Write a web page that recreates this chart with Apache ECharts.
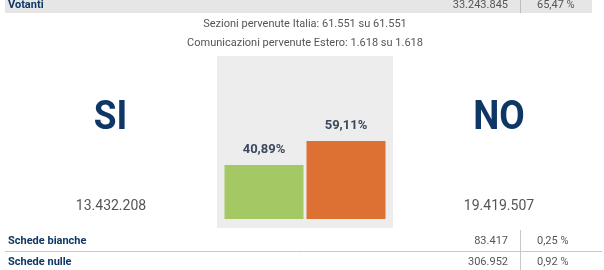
<!DOCTYPE html>
<html><head><meta charset="utf-8">
<script src="https://cdn.jsdelivr.net/npm/echarts@6/dist/echarts.min.js"></script>
<style>html,body{margin:0;padding:0;background:#fff}#c{width:604px;height:270px}</style>
</head><body><div id="c"></div>
<script>
const categories = ['SI', 'NO'];
const percentages = [40.89, 59.11];
const voteCounts = ['13.432.208', '19.419.507'];
const barColors = ['#a4c863', '#dc7133'];
const infoLines = ['Sezioni pervenute Italia: 61.551 su 61.551', 'Comunicazioni pervenute Estero: 1.618 su 1.618'];
const rowLabels = ['Votanti', 'Schede bianche', 'Schede nulle'];
const rowCounts = ['33.243.845', '83.417', '306.952'];
const rowPercents = ['65,47 %', '0,25 %', '0,92 %'];

const FONT = 'Roboto, "Noto Sans", sans-serif';
const navy = '#0f3766';
const chart = echarts.init(document.getElementById('c'), null, {renderer: 'canvas'});

function fmtPct(v) { return v.toFixed(2).replace('.', ',') + '%'; }

const rowY = [5.5, 241, 262];
const graphics = [
  {type: 'rect', shape: {x: 5, y: -2, width: 587, height: 15}, style: {fill: '#e6e6e6'}, z: 0},
  {type: 'line', shape: {x1: 520.5, y1: 0, x2: 520.5, y2: 13}, style: {stroke: '#bdbdbd', lineWidth: 1}},
  {type: 'line', shape: {x1: 5, y1: 251.5, x2: 602, y2: 251.5}, style: {stroke: '#c8c8c8', lineWidth: 1}},
  {type: 'line', shape: {x1: 520.5, y1: 230, x2: 520.5, y2: 270}, style: {stroke: '#c8c8c8', lineWidth: 1}},
  {type: 'rect', shape: {x: 217, y: 56, width: 176, height: 172}, style: {fill: '#ededed'}, z: 0}
];
rowLabels.forEach((t, i) => {
  graphics.push({type: 'text', x: 8, y: rowY[i], style: {text: t, font: 'bold 11px ' + FONT, fill: navy, textVerticalAlign: 'middle'}});
  graphics.push({type: 'text', x: 508, y: rowY[i], style: {text: rowCounts[i], font: '11px ' + FONT, fill: '#555', textAlign: 'right', textVerticalAlign: 'middle'}});
  graphics.push({type: 'text', x: 537, y: rowY[i], style: {text: rowPercents[i], font: '11px ' + FONT, fill: '#555', textAlign: 'left', textVerticalAlign: 'middle'}});
});
infoLines.forEach((t, i) => {
  graphics.push({type: 'text', x: 305, y: 24 + i * 19.5, style: {text: t, font: '11px ' + FONT, fill: '#555', textAlign: 'center', textVerticalAlign: 'middle'}});
});
const sideX = [110.5, 499];
const countX = [111, 499];
categories.forEach((c, i) => {
  graphics.push({type: 'text', x: sideX[i], y: 119, scaleX: 0.9, style: {text: c, font: 'bold 41px ' + FONT, fill: navy, textAlign: 'center', textVerticalAlign: 'middle'}});
  graphics.push({type: 'text', x: countX[i], y: 206, style: {text: voteCounts[i], font: '14px ' + FONT, fill: '#555', textAlign: 'center', textVerticalAlign: 'middle'}});
});

chart.setOption({
  animation: false,
  grid: {left: 223, width: 164, top: 87, height: 132},
  xAxis: {type: 'category', data: categories, show: false},
  yAxis: {type: 'value', min: 0, max: 100, show: false},
  graphic: graphics,
  series: [{
    type: 'bar',
    barWidth: 79,
    data: percentages.map((v, i) => ({value: v, itemStyle: {color: barColors[i]}})),
    label: {show: true, position: 'top', distance: 9, formatter: p => fmtPct(p.value),
      fontFamily: FONT, fontWeight: 'bold', fontSize: 13, color: '#3b4a5e'},
    z: 5
  }]
});
</script></body></html>
